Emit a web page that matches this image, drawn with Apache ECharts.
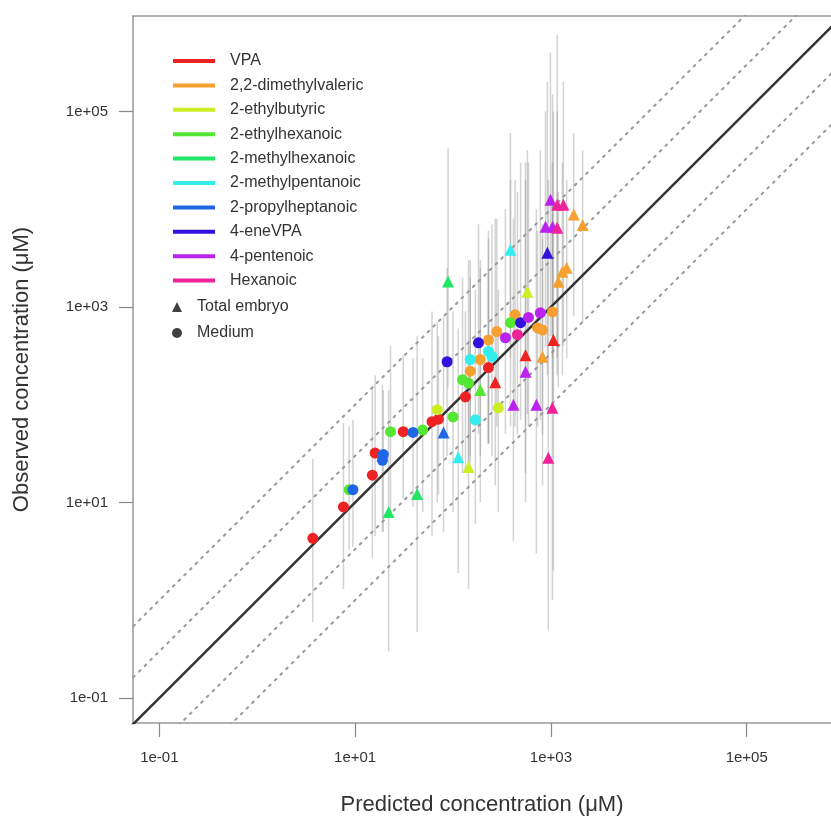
<!DOCTYPE html>
<html><head><meta charset="utf-8">
<script src="https://cdn.jsdelivr.net/npm/echarts@6/dist/echarts.min.js"></script>
<style>html,body{margin:0;padding:0;background:#fff}#c{width:831px;height:826px}</style>
</head><body><div id="c"></div>
<script>
// ---------- data ----------
const compounds = ['VPA','2,2-dimethylvaleric','2-ethylbutyric','2-ethylhexanoic','2-methylhexanoic',
  '2-methylpentanoic','2-propylheptanoic','4-eneVPA','4-pentenoic','Hexanoic'];
const colors = ['#EE2222','#F5A030','#CCEE22','#55E633','#22E666','#33EEEE','#1F66E5','#3311DD','#BB22EE','#EE2299'];
const sampleNames = ['Total embryo','Medium'];

// rows: [predicted µM, observed µM, lower, upper, sample]  sample: 'E' = Total embryo, 'M' = Medium
const vpa = [
  [3.7,4.3,0.6,28,'M'],[7.6,9.0,1.3,65,'M'],[15,19,2.7,150,'M'],[16,32,4.5,200,'M'],
  [31,53,11,320,'M'],[61,67,4.5,900,'M'],[71,71,12,500,'M'],[134,120,20,900,'M'],
  [230,240,40,2500,'M'],[270,170,15,8000,'E'],[550,320,20,30000,'E'],[1060,460,2,100000,'E']
];
const dimethylvaleric = [
  [1710,8800,800,60000,'E'],[2110,6900,700,40000,'E'],[1310,2290,200,30000,'E'],[1450,2520,300,20000,'E'],
  [1190,1810,150,15000,'E'],[1040,890,90,9000,'M'],[730,610,60,6000,'M'],[820,580,50,7000,'M'],
  [820,310,15,5000,'E'],[430,830,60,20000,'M'],[230,460,40,5000,'M'],[280,560,60,8000,'M'],
  [190,290,30,2500,'M'],[150,220,25,2000,'M']
];
const ethylbutyric = [
  [575,1430,80,40000,'E'],[290,93,8,1500,'M'],[144,23,1.3,400,'E'],[69,89,10,700,'M']
];
const ethylhexanoic = [
  [8.7,13.5,3.3,60,'M'],[23,53,8,400,'M'],[49,55,8,300,'M'],[125,180,20,2000,'M'],
  [144,166,25,3000,'M'],[190,141,10,3000,'E'],[100,75,8,900,'M'],[386,690,60,20000,'M']
];
const methylhexanoic = [
  [22,8.0,0.3,140,'E'],[43,12.2,0.47,500,'E'],[89,1820,150,42000,'E']
];
const methylpentanoic = [
  [386,3850,300,60000,'E'],[113,29,1.9,600,'E'],[169,70,6,1500,'M'],[150,290,30,3000,'M'],
  [230,350,40,6000,'M'],[250,310,30,7000,'M']
];
const propylheptanoic = [
  [9.5,13.5,3.5,70,'M'],[19.4,31,5,140,'M'],[19,27,5,160,'M'],[39,52,9,300,'M'],[80,52,5,800,'E']
];
const eneVPA = [
  [87,275,30,2500,'M'],[920,3590,200,200000,'E'],[182,430,50,7000,'M'],[490,690,70,30000,'M']
];
const pentenoic = [
  [990,12500,500,400000,'E'],[880,6600,400,100000,'E'],[1040,6600,300,150000,'E'],[590,780,60,30000,'M'],
  [780,870,70,40000,'M'],[343,484,50,10000,'M'],[550,217,10,20000,'E'],[414,100,4,8000,'E'],[710,100,3,10000,'E']
];
const hexanoic = [
  [1160,11100,300,600000,'E'],[1340,11100,400,200000,'E'],[1160,6460,200,100000,'E'],[455,520,50,15000,'M'],
  [1035,93,1,30000,'E'],[940,28.6,0.5,20000,'E']
];
const seriesData = [vpa, dimethylvaleric, ethylbutyric, ethylhexanoic, methylhexanoic,
  methylpentanoic, propylheptanoic, eneVPA, pentenoic, hexanoic];

const tickValues = [0.1, 10, 1000, 100000];
const tickLabels = ['1e-01','1e+01','1e+03','1e+05'];
const foldFactors = [1/10, 1/3, 3, 10];

// ---------- chart ----------
const X_MIN = Math.pow(10, -1.269), X_MAX = Math.pow(10, 5.861);
const Y_MIN = Math.pow(10, -1.256), Y_MAX = Math.pow(10, 5.976);
const FONT = '"Liberation Sans", Arial, sans-serif';
const fmt = v => {
  const i = tickValues.findIndex(t => Math.abs(Math.log10(v) - Math.log10(t)) < 1e-6);
  return i >= 0 ? tickLabels[i] : '';
};
function axis(name, gap, labelMargin, mn, mx) {
  return {
    type: 'log', logBase: 10, min: mn, max: mx,
    name: name, nameLocation: 'middle', nameGap: gap,
    nameTextStyle: { fontSize: 22, color: '#333', fontFamily: FONT },
    axisLine: { show: true, lineStyle: { color: '#999', width: 1.5 } },
    axisTick: { show: true, customValues: tickValues, length: 14, lineStyle: { color: '#888', width: 1.2 } },
    axisLabel: { customValues: tickValues, formatter: fmt, fontSize: 15, color: '#333', margin: labelMargin, fontFamily: FONT },
    splitLine: { show: false }, minorTick: { show: false }
  };
}

const bars = [];
seriesData.forEach(arr => arr.forEach(r => bars.push([r[0], r[2], r[3]])));

const series = [];
series.push({
  type: 'custom', silent: true, z: 1, data: bars, encode: { x: 0, y: [1, 2] },
  renderItem: (params, api) => {
    const p1 = api.coord([api.value(0), api.value(1)]);
    const p2 = api.coord([api.value(0), api.value(2)]);
    return { type: 'line', shape: { x1: p1[0], y1: p1[1], x2: p2[0], y2: p2[1] },
      style: { stroke: 'rgba(150,150,150,0.42)', lineWidth: 1.5 } };
  }
});
foldFactors.forEach(f => series.push({
  type: 'line', silent: true, z: 2, symbol: 'none', clip: true,
  data: [[1e-3, 1e-3 * f], [1e8, 1e8 * f]],
  lineStyle: { color: '#999', width: 2, type: [2, 6], cap: 'round' }
}));
series.push({
  type: 'line', silent: true, z: 3, symbol: 'none', clip: true,
  data: [[1e-3, 1e-3], [1e8, 1e8]],
  lineStyle: { color: '#333', width: 2.5 }
});
compounds.forEach((name, i) => series.push({
  type: 'scatter', name: name, z: 5,
  itemStyle: { color: colors[i], opacity: 1 },
  data: seriesData[i].map(r => ({
    value: [r[0], r[1]],
    symbol: r[4] === 'E' ? 'triangle' : 'circle',
    symbolSize: r[4] === 'E' ? 12 : 11
  }))
}));
series.push({ type: 'scatter', name: sampleNames[0], symbol: 'triangle', itemStyle: { color: '#111' }, data: [] });
series.push({ type: 'scatter', name: sampleNames[1], symbol: 'circle', itemStyle: { color: '#111' }, data: [] });

const chart = echarts.init(document.getElementById('c'));
chart.setOption({
  animation: false,
  backgroundColor: '#fff',
  grid: { left: 133, top: 16, right: 0, height: 707, show: false, containLabel: false },
  xAxis: [
    axis('Predicted concentration (μM)', 71, 27, X_MIN, X_MAX),
    { type: 'log', logBase: 10, min: X_MIN, max: X_MAX, position: 'top',
      axisLine: { show: true, lineStyle: { color: '#999', width: 1.5 } },
      axisTick: { show: false }, axisLabel: { show: false }, splitLine: { show: false } }
  ],
  yAxis: axis('Observed concentration (μM)', 100, 25, Y_MIN, Y_MAX),
  legend: [
    { orient: 'vertical', left: 173, top: 53, padding: 0, itemWidth: 42, itemHeight: 4, itemGap: 8.4,
      selectedMode: false,
      textStyle: { fontSize: 16, color: '#333', fontFamily: FONT, padding: [0, 0, 0, 10] },
      data: compounds.map(n => ({ name: n, icon: 'rect' })) },
    { orient: 'vertical', left: 172, top: 299, padding: 0, itemWidth: 10, itemHeight: 10, itemGap: 10,
      selectedMode: false,
      textStyle: { fontSize: 16, color: '#333', fontFamily: FONT, padding: [0, 0, 0, 10] },
      data: [{ name: sampleNames[0], icon: 'triangle' }, { name: sampleNames[1], icon: 'circle' }] }
  ],
  series: series
});
</script></body></html>
